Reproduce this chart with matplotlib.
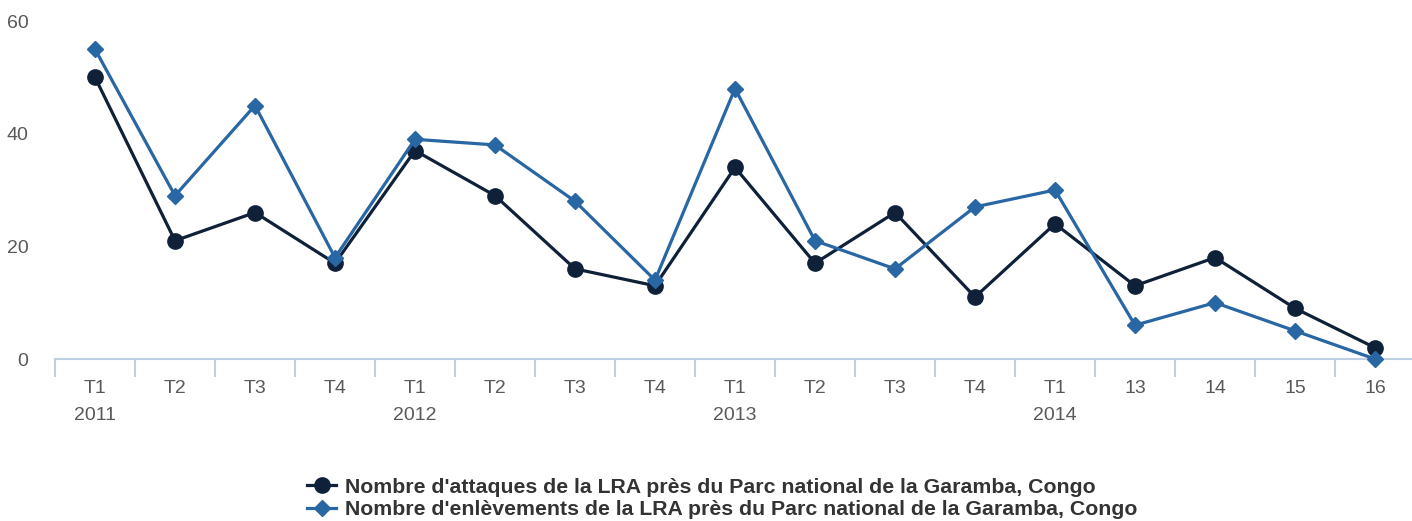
import numpy as np
import matplotlib.pyplot as plt
from matplotlib.ticker import FixedLocator

# Données
periodes = ["T1\n2011", "T2", "T3", "T4",
            "T1\n2012", "T2", "T3", "T4",
            "T1\n2013", "T2", "T3", "T4",
            "T1\n2014", "13", "14", "15", "16"]
attaques = [50, 21, 26, 17, 37, 29, 16, 13, 34, 17, 26, 11, 24, 13, 18, 9, 2]
enlevements = [55, 29, 45, 18, 39, 38, 28, 14, 48, 21, 16, 27, 30, 6, 10, 5, 0]

nom_attaques = "Nombre d'attaques de la LRA près du Parc national de la Garamba, Congo"
nom_enlevements = "Nombre d'enlèvements de la LRA près du Parc national de la Garamba, Congo"

GRIS = "#595959"
AXE = "#bfcfe3"
NOIR = "#0f2139"
BLEU = "#2866a4"

plt.rcParams['font.family'] = ['Liberation Sans', 'DejaVu Sans']

W, H = 1412, 521
fig = plt.figure(figsize=(W / 100, H / 100), dpi=100)
ax = fig.add_axes([55 / W, 162 / H, 1360 / W, 338 / H])

x = np.arange(len(periodes))
ax.plot(x, attaques, color=NOIR, lw=2.3, marker='o', ms=11, label=nom_attaques, clip_on=False, zorder=3)
ax.plot(x, enlevements, color=BLEU, lw=2.3, marker='D', ms=8.5, label=nom_enlevements, clip_on=False, zorder=4)

ax.set_xlim(-0.5, len(periodes) - 0.5)
ax.set_ylim(0, 60)
ax.set_yticks([0, 20, 40, 60])
ax.tick_params(axis='y', length=0, pad=19, labelsize=14, labelcolor=GRIS)

ax.set_xticks(x)
ax.set_xticklabels(periodes, linespacing=1.8)
ax.tick_params(axis='x', which='major', length=0, pad=15, labelsize=14, labelcolor=GRIS)
ax.xaxis.set_minor_locator(FixedLocator(np.arange(-0.5, len(periodes), 1.0)))
ax.tick_params(axis='x', which='minor', length=13, width=1.5, color=AXE)

for s in ['top', 'right', 'left']:
    ax.spines[s].set_visible(False)
ax.spines['bottom'].set_color(AXE)
ax.spines['bottom'].set_linewidth(1.5)

fig.legend(loc='upper left', bbox_to_anchor=(296 / W, 1 - 467 / H), frameon=False,
           prop={'size': 15.3, 'weight': 'bold'}, labelcolor='#333333',
           handlelength=1.4, handletextpad=0.4, labelspacing=0.16, borderpad=0)

fig.savefig("out.png", dpi=100)
